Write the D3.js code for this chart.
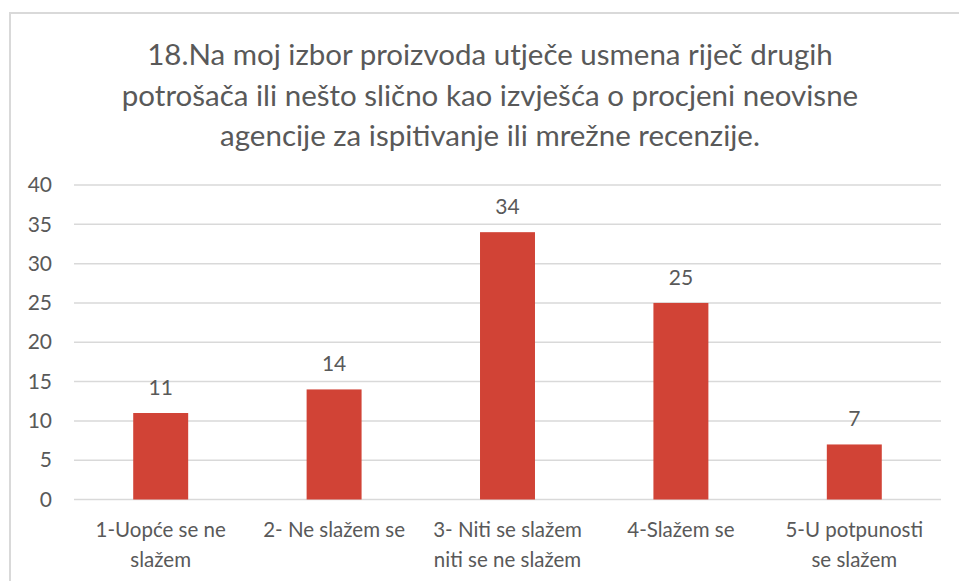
<!DOCTYPE html>
<html>
<head>
<meta charset="utf-8">
<script src="https://d3js.org/d3.v7.min.js"></script>
<style>
  body { margin: 0; background: #fff; }
  svg text { font-family: Lato, "Noto Sans", sans-serif; fill: #595959; }
</style>
</head>
<body>
<div id="chart"></div>
<script>

// chart data
var titleLines = [
  "18.Na moj izbor proizvoda utječe usmena riječ drugih",
  "potrošača ili nešto slično kao izvješća o procjeni neovisne",
  "agencije za ispitivanje ili mrežne recenzije."
];
var categories = [
  ["1-Uopće se ne", "slažem"],
  ["2- Ne slažem se"],
  ["3- Niti se slažem", "niti se ne slažem"],
  ["4-Slažem se"],
  ["5-U potpunosti", "se slažem"]
];
var values = [11, 14, 34, 25, 7];
var yTicks = [0, 5, 10, 15, 20, 25, 30, 35, 40];

var width = 959;
var height = 581;
var margin = {top: 185, right: 18, bottom: 81.5, left: 74};

var svg = d3.select("#chart")
  .append("svg")
  .attr("width", width)
  .attr("height", height);

// outer chart border
svg.append("rect")
  .attr("x", 10)
  .attr("y", 13)
  .attr("width", 1000)
  .attr("height", 700)
  .attr("fill", "none")
  .attr("stroke", "#d9d9d9")
  .attr("stroke-width", 2);

// title
svg.append("g")
  .selectAll("text")
  .data(titleLines)
  .enter()
  .append("text")
  .attr("x", 490)
  .attr("y", function(d, i) { return 65 + i * 40.5; })
  .attr("text-anchor", "middle")
  .attr("font-size", "29.5px")
  .text(function(d) { return d; });

var x = d3.scaleBand()
  .domain(d3.range(values.length))
  .range([margin.left, width - margin.right])
  .paddingInner(0.683)
  .paddingOuter(0.3415);

var y = d3.scaleLinear()
  .domain([0, 40])
  .range([height - margin.bottom, margin.top]);

// gridlines
svg.append("g")
  .selectAll("line")
  .data(yTicks)
  .enter()
  .append("line")
  .attr("x1", margin.left)
  .attr("x2", width - margin.right)
  .attr("y1", function(d) { return y(d); })
  .attr("y2", function(d) { return y(d); })
  .attr("stroke", "#d9d9d9")
  .attr("stroke-width", 1.5);

// y axis labels
var yAxis = d3.axisLeft(y).tickValues(yTicks).tickSize(0).tickPadding(22);
var gy = svg.append("g")
  .attr("transform", "translate(" + margin.left + ",0)")
  .call(yAxis);
gy.select(".domain").remove();
gy.selectAll("text")
  .attr("font-size", "21px")
  .style("font-family", "Lato, sans-serif")
  .attr("fill", "#595959");

// bars
svg.append("g")
  .selectAll("rect")
  .data(values)
  .enter()
  .append("rect")
  .attr("x", function(d, i) { return x(i); })
  .attr("y", function(d) { return y(d); })
  .attr("width", x.bandwidth())
  .attr("height", function(d) { return y(0) - y(d); })
  .attr("fill", "#d14336");

// value labels
svg.append("g")
  .selectAll("text")
  .data(values)
  .enter()
  .append("text")
  .attr("x", function(d, i) { return x(i) + x.bandwidth() / 2; })
  .attr("y", function(d) { return y(d) - 18; })
  .attr("text-anchor", "middle")
  .attr("font-size", "21px")
  .text(function(d) { return d; });

// category labels
var cat = svg.append("g")
  .selectAll("text")
  .data(categories)
  .enter()
  .append("text")
  .attr("text-anchor", "middle")
  .attr("font-size", "20.5px");

cat.selectAll("tspan")
  .data(function(d, i) { return d.map(function(t) { return {t: t, i: i}; }); })
  .enter()
  .append("tspan")
  .attr("x", function(d) { return x(d.i) + x.bandwidth() / 2; })
  .attr("y", function(d, j) { return 537 + j * 30; })
  .text(function(d) { return d.t; });

</script>
</body>
</html>
